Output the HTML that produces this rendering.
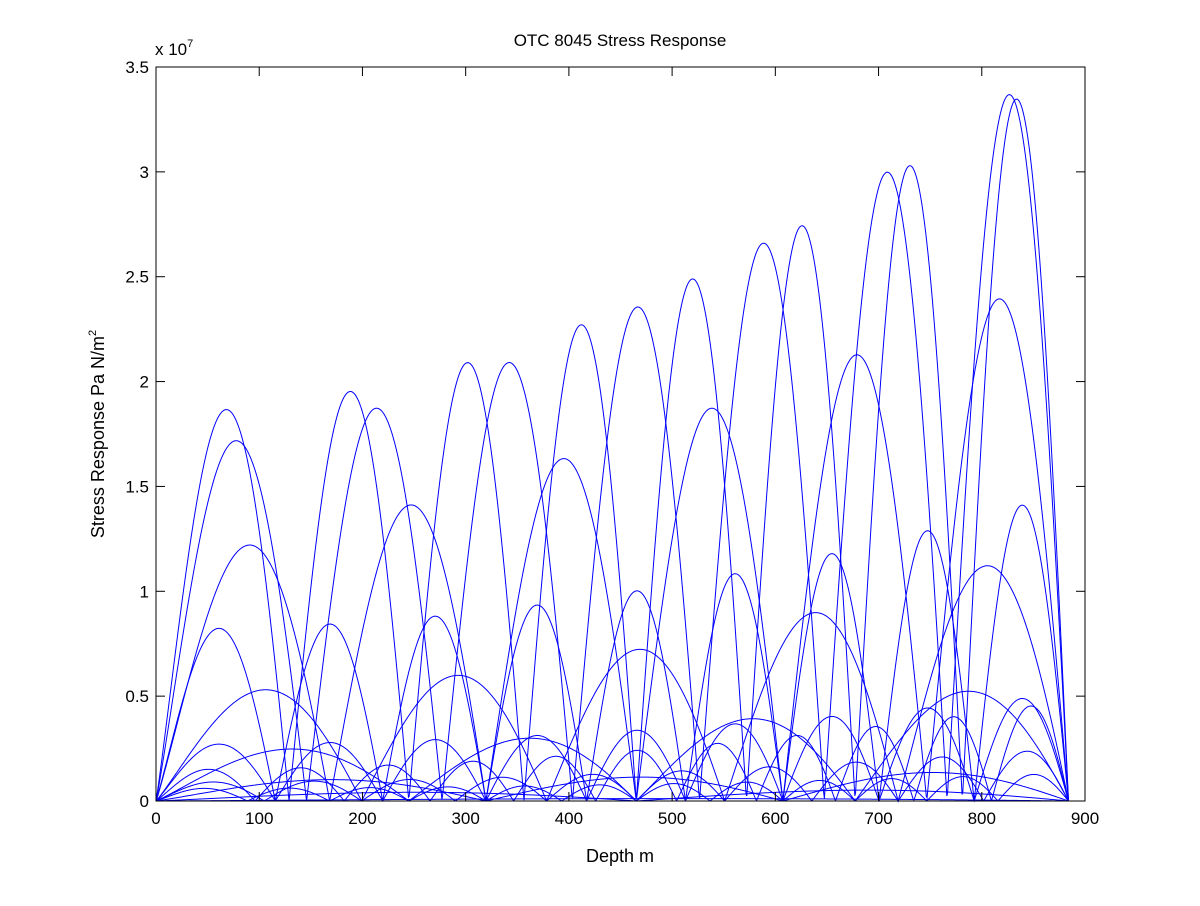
<!DOCTYPE html>
<html><head><meta charset="utf-8"><style>
html,body{margin:0;padding:0;background:#fff;}
svg text{font-family:"Liberation Sans",sans-serif;fill:#000;}
</style></head><body>
<svg id="s" width="1200" height="901" xmlns="http://www.w3.org/2000/svg">
<rect width="1200" height="901" fill="#fff"/>
<g id="curves" fill="none" stroke="#0000ff" stroke-width="1"></g>
<rect x="156" y="67" width="929" height="734" fill="none" stroke="#000" stroke-width="1"/>
<g id="ticks" stroke="#000" stroke-width="1"></g>
<g id="labels" font-size="17"></g>
<text x="620" y="46" font-size="17" text-anchor="middle">OTC 8045 Stress Response</text>
<text x="620" y="862" font-size="18" text-anchor="middle">Depth m</text>
<text x="155" y="55" font-size="17">x 10<tspan font-size="11" dy="-8">7</tspan></text>
<text transform="translate(104,434) rotate(-90)" font-size="18" text-anchor="middle">Stress Response Pa N/m<tspan font-size="11" dy="-8">2</tspan></text>
</svg>
<script>
var X0=156,X1=1085,Y0=801,Y1=67;
function px(x){return X0+(X1-X0)*x/900;}
function py(y){return Y0-(Y0-Y1)*y/3.5;}
var L=884;
// [n, a0, k, p]
var curves=[[8,1.85,0.9,1.8],[7,1.68,1.12,1.6],[6,1.15,1.2,1.3],[9,0.82,0.8,2],[5,0.52,1.4,2],[9,0.27,0.9,2],[4,0.24,1.5,2],[3,0.1,0.5,2],[11,0.15,2.2,2],[10,0.09,1.8,2],[2,0.04,0.5,2],[1,0.01,0.5,2],[12,0.06,1.2,2]];
var g=document.getElementById('curves'),ns="http://www.w3.org/2000/svg";
curves.forEach(function(c){
  var d="";
  for(var i=0;i<=1200;i++){
    var x=L*i/1200,f=Math.pow(x/L,1.08);
    var y=c[1]*(1+c[2]*Math.pow(x/L,c[3]))*Math.abs(Math.sin(c[0]*Math.PI*f));
    d+=(i?"L":"M")+px(x).toFixed(2)+" "+py(y).toFixed(2);
  }
  var p=document.createElementNS(ns,"path");p.setAttribute("d",d);g.appendChild(p);
});
var t=document.getElementById('ticks'),lb=document.getElementById('labels');
function ln(a,b,c,d){var l=document.createElementNS(ns,"line");l.setAttribute("x1",a);l.setAttribute("y1",b);l.setAttribute("x2",c);l.setAttribute("y2",d);t.appendChild(l);}
function tx(x,y,s,a){var e=document.createElementNS(ns,"text");e.setAttribute("x",x);e.setAttribute("y",y);e.setAttribute("text-anchor",a);e.textContent=s;lb.appendChild(e);}
for(var v=0;v<=900;v+=100){var x=px(v);ln(x,Y0,x,Y0-9);ln(x,Y1,x,Y1+9);tx(x,Y0+23,String(v),"middle");}
var yl=["0","0.5","1","1.5","2","2.5","3","3.5"];
for(var k=0;k<8;k++){var y=py(k*0.5);ln(X0,y,X0+9,y);ln(X1,y,X1-9,y);tx(X0-7,y+6,yl[k],"end");}
</script>
</body></html>
